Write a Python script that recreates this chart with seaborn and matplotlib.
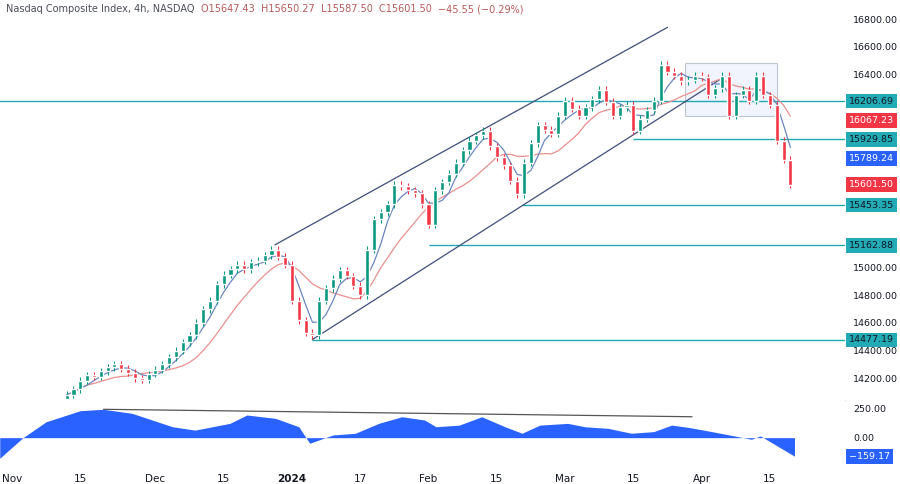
import numpy as np
import pandas as pd
import matplotlib
matplotlib.use("Agg")
import matplotlib.pyplot as plt
import seaborn as sns

# data (trading-day index from Nov 1 2023, daily closes)
start_idx = 8
closes = [14080, 14120, 14180, 14220, 14210, 14250, 14280, 14300, 14270, 14240,
          14200, 14190, 14230, 14260, 14300, 14350, 14400, 14460, 14510, 14600,
          14700, 14760, 14880, 14950, 14990, 15020, 14990, 15040, 15050, 15090,
          15130, 15080, 15020, 14760, 14620, 14530, 14510, 14760, 14850, 14920,
          14980, 14940, 14870, 14800, 15130, 15350, 15400, 15460, 15600, 15590,
          15560, 15540, 15460, 15310, 15560, 15620, 15680, 15760, 15850, 15920,
          15960, 15990, 15880, 15800, 15740, 15630, 15530, 15760, 15900, 16030,
          16000, 15970, 16100, 16210, 16150, 16100, 16160, 16220, 16290, 16200,
          16100, 16160, 16180, 15990, 16080, 16140, 16210, 16470, 16420, 16390,
          16350, 16360, 16390, 16380, 16250, 16300, 16390, 16100, 16250, 16290,
          16210, 16390, 16250, 16180, 15920, 15780, 15601.5]
first_open = 14050

osc_idx = [-1.8, 1.6, 5, 10, 13.4, 17.6, 23.5, 26.8, 31.9, 34.4, 38.6, 42, 43.6, 47,
           50.3, 53.7, 57.1, 60.4, 62.1, 65.5, 68.8, 72.2, 74.7, 77.3, 81.4, 83.9,
           87.3, 90.7, 94, 96.6, 99.1, 102.5, 105.8, 108.3, 109.6, 114.6]
osc_val = [-177, 0, 137, 232, 244, 209, 94, 65, 123, 195, 166, 94, -48, 23, 38, 123,
           180, 152, 94, 108, 180, 94, 38, 108, 123, 94, 80, 38, 52, 108, 88, 52, 15,
           -14, 15, -159]

tick_pos = [0, 10, 21, 31, 41, 51, 61, 71, 81, 91, 101, 111]
tick_lbl = ["Nov", "15", "Dec", "15", "2024", "17", "Feb", "15", "Mar", "15", "Apr", "15"]

levels = [16206.69, 15929.85, 15453.35, 15162.88, 14477.19]
level_start = [-5, 91, 74.7, 61, 44]
price_ticks = [14200, 14400, 14600, 14800, 15000, 16400, 16600, 16800]

UP, DOWN = "#089981", "#f23645"
TEAL = "#22aab5"

df = pd.DataFrame({"idx": np.arange(start_idx, start_idx + len(closes)), "close": closes})
df["open"] = [first_open] + closes[:-1]
df["high"] = df[["open", "close"]].max(axis=1) + 25
df["low"] = df[["open", "close"]].min(axis=1) - 25
df["ma_fast"] = df["close"].rolling(4, min_periods=1).mean()
df["ma_slow"] = df["close"].rolling(10, min_periods=1).mean()

sns.set_style("white")
plt.rcParams["font.family"] = ["DejaVu Sans"]

fig = plt.figure(figsize=(9, 4.84), dpi=100)
ax = fig.add_axes([0, 1 - 400 / 484, 845 / 900, 400 / 484])
ax2 = fig.add_axes([0, 1 - 470 / 484, 845 / 900, 70 / 484], sharex=ax)

xlim = (-1.76, 122)
ax.set_xlim(*xlim)
ax.set_ylim(14042, 16938)

# horizontal levels
for lv, st in zip(levels, level_start):
    ax.hlines(lv, st, xlim[1], color=TEAL, lw=1, zorder=1)

# channel
ax.plot([38.5, 96], [15165, 16740], color="#3d4f7a", lw=0.9)
ax.plot([44, 104.4], [14480, 16385], color="#3d4f7a", lw=0.9)

# consolidation box
ax.add_patch(plt.Rectangle((98.5, 16100), 13.5, 380, facecolor="#e8eefa", alpha=0.6,
                           edgecolor="#9aa4b8", lw=0.8, zorder=0))

# moving averages
sns.lineplot(data=df, x="idx", y="ma_slow", ax=ax, color="#e8908e", lw=0.9)
sns.lineplot(data=df, x="idx", y="ma_fast", ax=ax, color="#6a86c0", lw=0.9)

# candles
colors = np.where(df["close"] >= df["open"], UP, DOWN)
ax.vlines(df["idx"], df["low"], df["high"], colors=colors, lw=0.8, zorder=3)
ax.bar(df["idx"], (df["close"] - df["open"]).abs().clip(lower=8),
       bottom=df[["open", "close"]].min(axis=1), width=0.6, color=colors, zorder=4)

ax.set_xlabel("")
ax.set_ylabel("")
ax.yaxis.tick_right()
ax.set_yticks(price_ticks)
ax.set_yticklabels([f"{v:.2f}" for v in price_ticks])
ax.tick_params(axis="y", length=0, labelsize=6.8, colors="#131722", pad=6)
ax.tick_params(axis="x", length=0, labelbottom=False)
for s in ax.spines.values():
    s.set_visible(False)
ax.spines["bottom"].set_visible(True)
ax.spines["bottom"].set_color("#e0e3eb")

def tag(a, y, txt, bg, fg="white"):
    a.annotate(txt, xy=(1.0, y), xycoords=("axes fraction", "data"), xytext=(3, 0),
               textcoords="offset points", va="center", ha="left", fontsize=6.8,
               color=fg, zorder=10, annotation_clip=False,
               bbox=dict(boxstyle="square,pad=0.3", fc=bg, ec="none"))

for lv in levels:
    tag(ax, lv, f"{lv:.2f}", TEAL, "#131722")
tag(ax, 16067.23, "16067.23", DOWN)
tag(ax, 15789.24, "15789.24", "#2962ff")
tag(ax, 15601.50, "15601.50", DOWN)

# header
parts = [("Nasdaq Composite Index, 4h, NASDAQ  ", "#4a4e59"), ("O15647.43  ", "#b85a5a"),
         ("H15650.27  ", "#b85a5a"), ("L15587.50  ", "#b85a5a"), ("C15601.50  ", "#b85a5a"),
         ("\u221245.55 (\u22120.29%)", "#b85a5a")]
x0 = 6
for txt, col in parts:
    t = fig.text(x0 / 900, 1 - 9 / 484, txt, color=col, fontsize=7, va="center", ha="left")
    fig.canvas.draw()
    x0 += t.get_window_extent().width

# oscillator
ax2.fill_between(osc_idx, osc_val, 0, color="#2962ff", lw=0)
ax2.plot([13.4, 99.6], [244, 180], color="#555555", lw=0.9)
ax2.set_ylim(-278, 324)
ax2.set_yticks([0, 250])
ax2.set_yticklabels(["0.00", "250.00"])
ax2.yaxis.tick_right()
ax2.tick_params(axis="y", length=0, labelsize=6.8, colors="#131722", pad=6)
tag(ax2, -159.17, "\u2212159.17", "#2962ff")
ax2.set_xticks(tick_pos)
ax2.set_xticklabels(tick_lbl)
for lbl in ax2.get_xticklabels():
    if lbl.get_text() == "2024":
        lbl.set_fontweight("bold")
ax2.tick_params(axis="x", length=0, labelsize=7.5, colors="#131722", pad=3)
for s in ax2.spines.values():
    s.set_visible(False)

fig.savefig("out.png", dpi=100)
